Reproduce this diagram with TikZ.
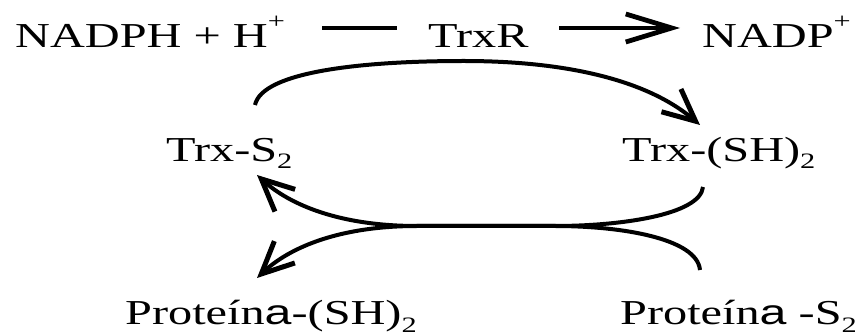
\documentclass[tikz,border=0pt]{standalone}
\usepackage{fontspec}
\setmainfont{Liberation Serif}
\newfontfamily\sansa{Liberation Sans}
\usetikzlibrary{arrows.meta}
\newcommand{\mysub}[1]{\raisebox{-0.2em}{\fontsize{22}{22}\selectfont #1}}
\newcommand{\mysup}[1]{\raisebox{0.55em}{\fontsize{22}{22}\selectfont #1}}
\newcommand{\wide}[1]{\scalebox{1.38}[1]{#1}}
\begin{document}
\begin{tikzpicture}[x=1pt,y=-1pt,
  lbl/.style={anchor=base west, inner sep=0pt, font=\fontsize{35}{40}\selectfont},
  bar/.style={line width=4pt},
  straightarrow/.style={line width=4pt, -{Straight Barb[length=46pt,width=28pt,line width=4.8pt]}},
  curvearrow/.style={line width=4pt, -{Straight Barb[length=32pt,width=30pt,line width=5pt]}}]
\useasboundingbox (0,0) rectangle (856,336);
% labels
\node[lbl] (nadph) at (15,48) {\wide{NADPH + H\mysup{+}}};
\node[lbl] (trxr) at (428,48) {\wide{TrxR}};
\node[lbl] (nadp) at (702,48) {\wide{NADP\mysup{+}}};
\node[lbl] (trxs) at (166,162) {\wide{Trx-S\mysub{2}}};
\node[lbl] (trxsh) at (622,162) {\wide{Trx-(SH)\mysub{2}}};
\node[lbl] (protsh) at (125,325) {\wide{Proteín{\sansa a}-(SH)\mysub{2}}};
\node[lbl] (prots) at (620,325) {\wide{Proteín{\sansa a} -S\mysub{2}}};
% top line and arrow
\coordinate (l1) at (322,28);
\coordinate (l2) at (397,28);
\coordinate (r1) at (559,28);
\coordinate (r2) at (680,28);
\draw[bar] (l1) -- (l2);
\draw[straightarrow] (r1) -- (r2);
% top arc
\coordinate (a1) at (255,105);
\coordinate (a2) at (700,125);
\draw[curvearrow] (a1) .. controls (262,72) and (360,61) .. (464,61)
  .. controls (560,61) and (645,78) .. (a2);
% crossing arcs
\coordinate (b1) at (703,187);
\coordinate (b2) at (257,175);
\coordinate (c1) at (700,270);
\coordinate (c2) at (257,278);
\draw[curvearrow] (b1) .. controls (700,215) and (620,226) .. (555,226)
  -- (417,226) .. controls (340,226) and (290,205) .. (b2);
\draw[curvearrow] (c1) .. controls (697,238) and (620,226) .. (555,226)
  -- (417,226) .. controls (340,226) and (290,247) .. (c2);
\end{tikzpicture}
\end{document}
